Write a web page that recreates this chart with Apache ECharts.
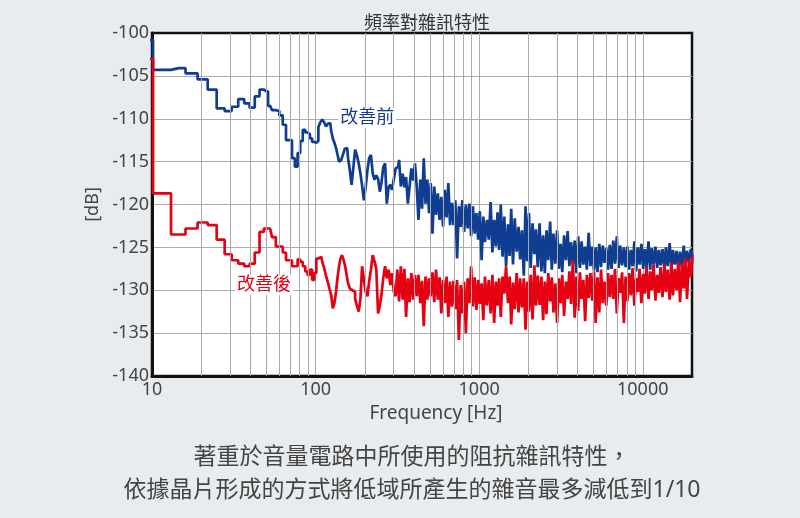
<!DOCTYPE html>
<html>
<head>
<meta charset="utf-8">
<style>
  html, body { margin: 0; padding: 0; background: #e8ecef; }
  #chart { width: 800px; height: 518px; }
</style>
<script src="https://cdn.jsdelivr.net/npm/echarts@6/dist/echarts.min.js"></script>
</head>
<body>
<div id="chart"></div>
<script>
// frequency points [Hz]: FFT bins (k * 2.93 Hz) up to ~150 Hz, then points
const freqHz = [
  8.8, 11.7, 14.6, 17.6, 20.5, 23.4, 26.4, 29.3, 32.2, 35.2,
  38.1, 41.0, 44.0, 46.9, 49.8, 52.7, 55.7, 58.6, 61.5, 64.5,
  67.4, 70.3, 73.2, 76.2, 79.1, 82.0, 85.0, 87.9, 90.8, 93.8,
  96.7, 99.6, 102.5, 105.5, 108.4, 111.3, 114.3, 117.2, 120.1, 123.0,
  126.0, 128.9, 131.8, 134.8, 137.7, 140.6, 143.5, 146.5, 149.4, 152.3,
  156, 160, 164, 168, 172, 177, 181, 186, 190, 195,
  200, 205, 210, 215, 221, 226, 232, 238, 244, 250,
  256, 263, 269, 276, 283, 290, 297, 305, 312, 320,
  328, 336, 345, 353, 362, 371, 380, 390, 400, 410,
  420, 431, 442, 453, 464, 476, 488, 500, 512, 525,
  538, 552, 566, 580, 594, 609, 624, 640, 656, 672,
  689, 706, 724, 742, 761, 780, 799, 819, 840, 861,
  882, 904, 927, 950, 974, 998, 1020, 1050, 1070, 1100,
  1130, 1160, 1190, 1220, 1250, 1280, 1310, 1340, 1370, 1410,
  1440, 1480, 1520, 1550, 1590, 1630, 1670, 1720, 1760, 1800,
  1850, 1900, 1940, 1990, 2040, 2090, 2150, 2200, 2250, 2310,
  2370, 2430, 2490, 2550, 2610, 2680, 2750, 2810, 2880, 2960,
  3030, 3110, 3180, 3260, 3350, 3430, 3520, 3600, 3690, 3790,
  3880, 3980, 4080, 4180, 4280, 4390, 4500, 4610, 4730, 4850,
  4970, 5090, 5220, 5350, 5490, 5620, 5770, 5910, 6060, 6210,
  6370, 6520, 6690, 6850, 7030, 7200, 7380, 7570, 7760, 7950,
  8150, 8350, 8560, 8780, 9000, 9220, 9450, 9690, 9930, 10200,
  10400, 10700, 11000, 11200, 11500, 11800, 12100, 12400, 12700, 13000,
  13400, 13700, 14000, 14400, 14800, 15100, 15500, 15900, 16300, 16700,
  17100, 17600, 18000, 18400, 18900, 19400, 19900, 20400
];

// 改善前 [dB]
const beforeDb = [
  -100.8, -104.3, -104.1, -104.7, -105.4, -106.6, -108.8, -109.1, -108.6, -107.7,
  -108.2, -108.7, -107.4, -106.6, -106.8, -108.5, -109.0, -109.1, -109.6, -110.7,
  -112.5, -112.5, -114.6, -115.6, -114.0, -112.6, -111.3, -111.6, -111.8, -112.3,
  -112.7, -112.8, -112.6, -111.0, -110.4, -110.1, -110.4, -110.9, -110.6, -110.5,
  -111.4, -112.3, -112.8, -113.4, -114.2, -115.0, -114.8, -114.6, -114.0, -113.5,
  -113.4, -114.6, -116.0, -117.7, -115.8, -113.6, -114.3, -115.2, -116.4, -117.8,
  -119.5, -117.9, -116.0, -114.6, -114.2, -116.4, -117.1, -116.6, -117.0, -118.5,
  -117.4, -115.6, -115.2, -119.9, -118.0, -117.7, -118.3, -117.0, -115.8, -115.6,
  -114.8, -117.9, -116.4, -118.0, -116.8, -119.9, -117.9, -115.8, -117.2, -115.2,
  -117.8, -121.8, -117.1, -120.5, -114.6, -119.9, -117.1, -121.0, -117.5, -123.4,
  -117.9, -121.2, -118.7, -121.8, -119.1, -122.6, -118.3, -121.5, -117.5, -122.4,
  -119.8, -122.4, -119.5, -126.3, -120.2, -122.6, -119.5, -123.2, -120.0, -122.8,
  -119.9, -123.7, -120.2, -123.4, -121.0, -124.1, -120.8, -126.5, -121.4, -124.4,
  -121.8, -124.1, -119.7, -125.6, -121.8, -124.9, -120.9, -125.3, -120.0, -126.1,
  -121.4, -127.2, -122.3, -126.0, -120.5, -127.0, -121.6, -125.5, -122.6, -126.4,
  -123.0, -128.3, -120.2, -126.6, -121.0, -127.4, -122.2, -125.8, -122.9, -127.3,
  -122.2, -127.8, -123.6, -128.0, -123.0, -126.5, -122.0, -127.6, -123.4, -126.9,
  -123.0, -127.5, -124.6, -127.9, -123.6, -126.5, -123.1, -127.2, -124.4, -127.0,
  -124.2, -128.0, -123.7, -127.4, -124.3, -127.0, -124.9, -127.6, -123.3, -127.2,
  -124.9, -127.7, -125.0, -127.9, -124.6, -127.3, -124.8, -126.8, -125.1, -127.6,
  -124.7, -127.5, -124.2, -126.9, -123.7, -127.4, -124.8, -127.1, -125.0, -127.3,
  -124.9, -127.6, -125.3, -127.2, -124.3, -127.8, -125.0, -127.0, -124.6, -127.5,
  -125.2, -127.3, -124.3, -127.6, -125.1, -127.0, -124.9, -127.4, -125.3, -127.1,
  -125.2, -127.5, -125.0, -127.2, -124.5, -127.6, -125.3, -127.0, -125.4, -127.4,
  -125.5, -127.3, -124.8, -127.0, -125.4, -126.8, -125.2, -126.0
];

// 改善後 [dB]
const afterDb = [
  -103.0, -118.7, -123.5, -122.8, -122.1, -122.4, -124.1, -125.8, -126.5, -126.9,
  -127.2, -126.9, -125.6, -123.2, -122.8, -122.8, -123.8, -124.9, -124.9, -125.6,
  -126.5, -126.5, -127.2, -127.2, -126.4, -126.7, -127.2, -127.8, -128.2, -127.6,
  -128.8, -128.0, -126.3, -126.1, -126.1, -126.7, -127.4, -128.3, -129.0, -129.8,
  -130.5, -132.1, -131.5, -130.2, -128.5, -127.2, -126.3, -125.9, -126.4, -127.0,
  -128.0, -129.2, -129.8, -130.0, -130.2, -131.0, -131.8, -132.5, -131.0, -127.2,
  -128.8, -130.2, -130.7, -129.0, -127.6, -125.9, -126.6, -127.5, -132.7, -131.8,
  -130.5, -128.5, -127.2, -128.6, -127.6, -129.4, -128.0, -130.2, -130.7, -127.6,
  -131.3, -127.2, -131.1, -127.5, -133.1, -128.6, -131.4, -128.0, -131.1, -128.2,
  -130.7, -128.2, -131.5, -128.9, -134.2, -128.4, -131.1, -128.6, -130.7, -127.9,
  -131.4, -127.6, -131.1, -128.5, -132.7, -128.8, -131.5, -128.4, -133.1, -129.0,
  -131.9, -128.9, -132.2, -128.8, -135.8, -129.4, -132.7, -129.0, -135.0, -128.6,
  -131.5, -127.2, -131.9, -128.5, -132.3, -128.8, -131.6, -129.2, -133.5, -128.4,
  -131.8, -128.8, -132.7, -128.2, -133.8, -129.0, -131.8, -128.6, -133.1, -128.4,
  -130.4, -127.2, -131.5, -128.4, -134.0, -129.1, -132.2, -128.0, -132.6, -128.6,
  -132.0, -128.6, -134.6, -129.0, -132.5, -128.2, -133.4, -127.1, -131.8, -128.3,
  -131.7, -128.4, -133.5, -129.0, -132.8, -128.0, -131.3, -128.5, -132.6, -129.2,
  -133.8, -128.6, -131.5, -128.2, -133.0, -129.0, -131.0, -127.8, -131.6, -126.5,
  -133.2, -128.4, -132.4, -127.9, -131.0, -128.8, -133.6, -128.2, -130.9, -128.0,
  -131.2, -127.8, -133.8, -128.5, -132.6, -127.6, -131.5, -129.0, -131.8, -128.0,
  -130.8, -128.2, -131.0, -127.5, -132.7, -128.6, -130.3, -127.9, -133.8, -128.4,
  -131.3, -128.0, -130.6, -127.4, -131.8, -128.6, -130.2, -127.5, -131.5, -128.1,
  -130.4, -127.2, -131.0, -127.8, -130.0, -127.0, -131.2, -128.2, -130.3, -127.3,
  -130.8, -127.0, -130.2, -127.6, -131.1, -126.8, -130.6, -127.5, -130.0, -126.7,
  -131.4, -126.9, -129.8, -126.2, -131.0, -126.5, -128.5, -126.1
];

// minor vertical grid lines (2..9 of each decade)
const gridHz = [
  20, 30, 40, 50, 60, 70, 80, 90,
  200, 300, 400, 500, 600, 700, 800, 900,
  2000, 3000, 4000, 5000, 6000, 7000, 8000, 9000
];

const titleText = "頻率對雜訊特性";
const captionLines = [
  "著重於音量電路中所使用的阻抗雜訊特性，",
  "依據晶片形成的方式將低域所產生的雜音最多減低到1/10"
];

const FONT = "'Noto Sans', 'Noto Sans CJK TC', sans-serif";
const BLUE = "#0f3d92";
const RED = "#e50012";

var chart = echarts.init(document.getElementById("chart"));

var option = {
  animation: false,
  backgroundColor: "#e8ecef",
  textStyle: { fontFamily: FONT },
  title: {
    text: titleText,
    left: 422,
    top: 10,
    textAlign: "center",
    textStyle: { fontSize: 18, fontWeight: "normal", color: "#333", fontFamily: FONT },
  },
  grid: {
    left: 152,
    right: 108,
    top: 33,
    bottom: 142,
    show: true,
    backgroundColor: "#fff",
    borderColor: "#111",
    borderWidth: 2.5,
  },
  xAxis: {
    type: "log",
    logBase: 10,
    min: 10,
    max: 20000,
    name: "Frequency [Hz]",
    nameLocation: "middle",
    nameGap: 21,
    nameTextStyle: { fontSize: 19, color: "#444", padding: [0, 0, 0, 28] },
    axisLine: { show: true, lineStyle: { color: "#111", width: 3 } },
    axisTick: { show: false },
    axisLabel: {
      fontSize: 18,
      color: "#444",
      margin: 5,
      showMaxLabel: false,
      formatter: function (value) {
        return String(Math.round(value));
      },
    },
    splitLine: { show: true, showMinLine: false, showMaxLine: false, lineStyle: { color: "#aaa", width: 1 } },
  },
  yAxis: {
    type: "value",
    min: -140,
    max: -100,
    interval: 5,
    name: "[dB]",
    nameLocation: "middle",
    nameGap: 48,
    nameTextStyle: { fontSize: 18, color: "#444" },
    axisLine: { show: true, lineStyle: { color: "#111", width: 3 } },
    axisTick: { show: false },
    axisLabel: { fontSize: 18, color: "#444", margin: 3 },
    splitLine: { show: true, showMinLine: false, showMaxLine: false, lineStyle: { color: "#aaa", width: 1 } },
  },
  series: [
    {
      // only carries the minor log grid lines
      type: "line",
      data: [],
      z: 1,
      silent: true,
      markLine: {
        silent: true,
        symbol: "none",
        label: { show: false },
        lineStyle: { color: "#aaa", width: 1, type: "solid" },
        data: gridHz.map((v) => ({ xAxis: v })),
      },
    },
    {
      name: "改善前",
      type: "line",
      step: "middle",
      showSymbol: false,
      z: 3,
      data: freqHz.map((f, i) => [f, beforeDb[i]]),
      lineStyle: { color: BLUE, width: 2.7 },
      itemStyle: { color: BLUE },
      markPoint: {
        symbol: "rect",
        symbolSize: 0,
        data: [{ coord: [206.7, -109.9] }],
        label: {
          show: true,
          formatter: "改善前",
          color: BLUE,
          fontSize: 18,
          backgroundColor: "#fff",
          padding: [1, 2],
          fontFamily: FONT,
        },
      },
    },
    {
      name: "改善後",
      type: "line",
      step: "middle",
      showSymbol: false,
      z: 4,
      data: freqHz.map((f, i) => [f, afterDb[i]]),
      lineStyle: { color: RED, width: 2.7 },
      itemStyle: { color: RED },
      markPoint: {
        symbol: "rect",
        symbolSize: 0,
        data: [{ coord: [48.4, -129.4] }],
        label: {
          show: true,
          formatter: "改善後",
          color: RED,
          fontSize: 18,
          backgroundColor: "#fff",
          padding: [1, 2],
          fontFamily: FONT,
        },
      },
    },
  ],
  graphic: [
    {
      type: "text",
      x: 412,
      y: 457,
      style: {
        text: captionLines[0],
        align: "center",
        verticalAlign: "middle",
        fontSize: 23,
        fontFamily: FONT,
        fill: "#444",
      },
    },
    {
      type: "text",
      x: 412,
      y: 490,
      style: {
        text: captionLines[1],
        align: "center",
        verticalAlign: "middle",
        fontSize: 23,
        fontFamily: FONT,
        fill: "#444",
      },
    },
  ],
};

chart.setOption(option);
</script>
</body>
</html>
